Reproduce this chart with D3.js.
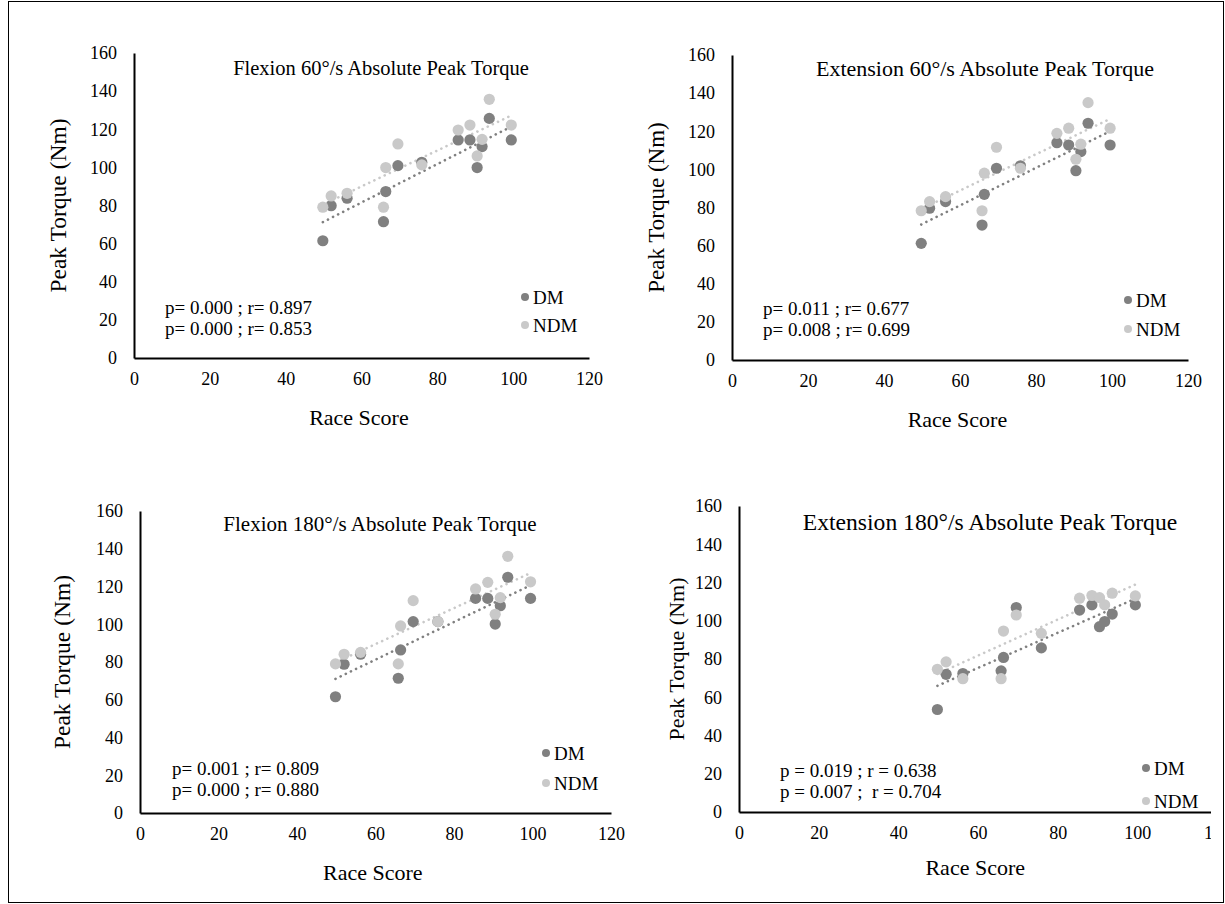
<!DOCTYPE html>
<html>
<head>
<meta charset="utf-8">
<script src="https://cdn.jsdelivr.net/npm/d3@7"></script>
<style>
  html, body { margin: 0; padding: 0; background: #fff; }
  svg { display: block; }
  text { font-family: "Liberation Serif", "Times New Roman", serif; fill: #000; }
</style>
</head>
<body>
<svg id="chart" width="1225" height="904"></svg>
<script>
// ---------------- DATA ----------------
const raceScore = [49.8, 52, 56.2, 65.8, 66.4, 69.6, 75.9, 85.5, 88.6, 90.5, 91.8, 93.7, 99.5];

const flex60DM  = [61.5, 79.9, 83.8, 71.5, 87.3, 100.9, 102.7, 114.4, 114.4, 99.9, 110.9, 125.7, 114.4];
const flex60NDM = [79.1, 85.0, 86.4, 79.1, 99.9, 112.3, 101.3, 119.6, 122.2, 106.0, 114.7, 135.7, 122.2];

const ext60DM  = [61.2, 79.6, 83.1, 70.8, 86.9, 100.6, 101.9, 114.0, 112.8, 99.3, 109.3, 124.2, 112.8];
const ext60NDM = [78.3, 83.1, 85.7, 78.3, 98.0, 111.6, 100.6, 118.9, 121.6, 105.3, 113.2, 135.0, 121.6];

const flex180DM  = [61.6, 78.8, 84.1, 71.4, 86.4, 101.4, 101.4, 113.7, 113.7, 100.1, 109.8, 124.9, 113.7];
const flex180NDM = [79.0, 84.1, 85.1, 79.0, 99.1, 112.5, 101.4, 118.7, 122.2, 105.3, 114.1, 136.0, 122.5];

const ext180DM  = [53.6, 72.0, 72.4, 73.8, 80.8, 106.9, 85.8, 105.6, 108.3, 96.9, 99.6, 103.5, 108.3];
const ext180NDM = [74.6, 78.5, 69.7, 69.7, 94.6, 103.0, 93.4, 111.8, 113.2, 112.1, 108.3, 114.4, 113.0];

const titles = [
  "Flexion 60°/s Absolute Peak Torque",
  "Extension 60°/s Absolute Peak Torque",
  "Flexion 180°/s Absolute Peak Torque",
  "Extension 180°/s Absolute Peak Torque"
];
const statsLines = [
  ["p= 0.000 ; r= 0.897", "p= 0.000 ; r= 0.853"],
  ["p= 0.011 ; r= 0.677", "p= 0.008 ; r= 0.699"],
  ["p= 0.001 ; r= 0.809", "p= 0.000 ; r= 0.880"],
  ["p = 0.019 ; r = 0.638", "p = 0.007 ;  r = 0.704"]
];
const seriesNames = ["DM", "NDM"];
const xTicks = [0, 20, 40, 60, 80, 100, 120];
const yTicks = [0, 20, 40, 60, 80, 100, 120, 140, 160];
const xLabel = "Race Score";
const yLabel = "Peak Torque (Nm)";

// ---------------- LAYOUT / STYLE ----------------
const colors = { DM: "#808080", NDM: "#c9c9c9" };
const panels = [
  { dm: flex60DM, ndm: flex60NDM, x0: 134, x1: 589, yb: 358, yt: 53,
    titleX: 381, titleY: 68, titleSize: 20.5, yTitleX: 58, yTitleSize: 23.5, xTitleY: 417,
    statX: 165, statY: 307, legX: 525, legY: 297, legGap: 28, clip: null },
  { dm: ext60DM, ndm: ext60NDM, x0: 732, x1: 1188, yb: 360, yt: 55,
    titleX: 985, titleY: 68, titleSize: 22, yTitleX: 656, yTitleSize: 23, xTitleY: 419,
    statX: 763, statY: 308, legX: 1128, legY: 300, legGap: 29, clip: null },
  { dm: flex180DM, ndm: flex180NDM, x0: 140, x1: 611, yb: 813, yt: 511,
    titleX: 380, titleY: 524, titleSize: 21, yTitleX: 62, yTitleSize: 23.5, xTitleY: 872,
    statX: 172, statY: 768, legX: 546, legY: 753, legGap: 30, clip: null },
  { dm: ext180DM, ndm: ext180NDM, x0: 739, x1: 1217, yb: 812, yt: 506,
    titleX: 990, titleY: 522, titleSize: 23.6, yTitleX: 676, yTitleSize: 22, xTitleY: 867,
    statX: 780, statY: 770, legX: 1146, legY: 768, legGap: 33, clip: 1211 }
];

const svg = d3.select("#chart");
svg.append("rect").attr("x", 8.5).attr("y", 1.5).attr("width", 1215).attr("height", 901)
  .attr("fill", "none").attr("stroke", "#000").attr("stroke-width", 1);

function regression(xs, ys) {
  const n = xs.length;
  const mx = d3.mean(xs), my = d3.mean(ys);
  let sxy = 0, sxx = 0;
  for (let i = 0; i < n; i++) { sxy += (xs[i] - mx) * (ys[i] - my); sxx += (xs[i] - mx) ** 2; }
  const b = sxy / sxx;
  return x => my + b * (x - mx);
}

panels.forEach((p, i) => {
  const g = svg.append("g");
  if (p.clip) {
    const id = "clip" + i;
    svg.append("clipPath").attr("id", id).append("rect")
      .attr("x", 0).attr("y", 0).attr("width", p.clip).attr("height", 904);
    g.attr("clip-path", `url(#${id})`);
  }
  const x = d3.scaleLinear().domain([0, 120]).range([p.x0, p.x1]);
  const y = d3.scaleLinear().domain([0, 160]).range([p.yb, p.yt]);

  // axes
  const yAxis = d3.axisLeft(y).tickValues(yTicks).tickSize(0).tickPadding(17);
  const xAxis = d3.axisBottom(x).tickValues(xTicks).tickSize(0).tickPadding(14);
  const ya = g.append("g").attr("transform", `translate(${p.x0},0)`).call(yAxis);
  const xa = g.append("g").attr("transform", `translate(0,${p.yb})`).call(xAxis);
  [ya, xa].forEach(a => {
    a.select(".domain").attr("stroke", "#000").attr("stroke-width", 2);
    a.selectAll("text").style("font-family", '"Liberation Serif", serif').style("font-size", "18px").attr("fill", "#000");
  });

  // title
  g.append("text").attr("x", p.titleX).attr("y", p.titleY).attr("dy", "0.35em")
    .attr("text-anchor", "middle").style("font-size", p.titleSize + "px").text(titles[i]);
  // axis titles
  g.append("text").attr("x", (p.x0 + (p.x0 + (p.x1 - p.x0) * 0.98)) / 2 + 2).attr("y", p.xTitleY).attr("dy", "0.35em")
    .attr("text-anchor", "middle").style("font-size", "22px").text(xLabel);
  g.append("text").attr("transform", `translate(${p.yTitleX},${(p.yb + p.yt) / 2}) rotate(-90)`)
    .attr("dy", "0.35em").attr("text-anchor", "middle").style("font-size", p.yTitleSize + "px").text(yLabel);

  // trendlines
  const series = [{ key: "DM", vals: p.dm }, { key: "NDM", vals: p.ndm }];
  const xmin = d3.min(raceScore), xmax = d3.max(raceScore);
  series.forEach(s => {
    const f = regression(raceScore, s.vals);
    g.append("line")
      .attr("x1", x(xmin)).attr("y1", y(f(xmin)))
      .attr("x2", x(xmax)).attr("y2", y(f(xmax)))
      .attr("stroke", colors[s.key]).attr("stroke-width", 2.6)
      .attr("stroke-linecap", "round").attr("stroke-dasharray", "0.1 5.6");
  });

  // points: DM first, NDM on top
  series.forEach(s => {
    g.append("g").selectAll("circle").data(raceScore).join("circle")
      .attr("cx", d => x(d)).attr("cy", (d, j) => y(s.vals[j])).attr("r", 5.6)
      .attr("fill", colors[s.key]);
  });

  // stats
  statsLines[i].forEach((t, k) => {
    g.append("text").attr("x", p.statX).attr("y", p.statY + k * 21).attr("dy", "0.35em")
      .style("font-size", "19px").style("white-space", "pre").attr("xml:space", "preserve").text(t);
  });

  // legend
  seriesNames.forEach((nm, k) => {
    const ly = p.legY + k * p.legGap;
    g.append("circle").attr("cx", p.legX).attr("cy", ly).attr("r", 4).attr("fill", colors[nm]);
    g.append("text").attr("x", p.legX + 8).attr("y", ly).attr("dy", "0.35em")
      .style("font-size", "19px").text(nm);
  });
});
</script>
</body>
</html>
